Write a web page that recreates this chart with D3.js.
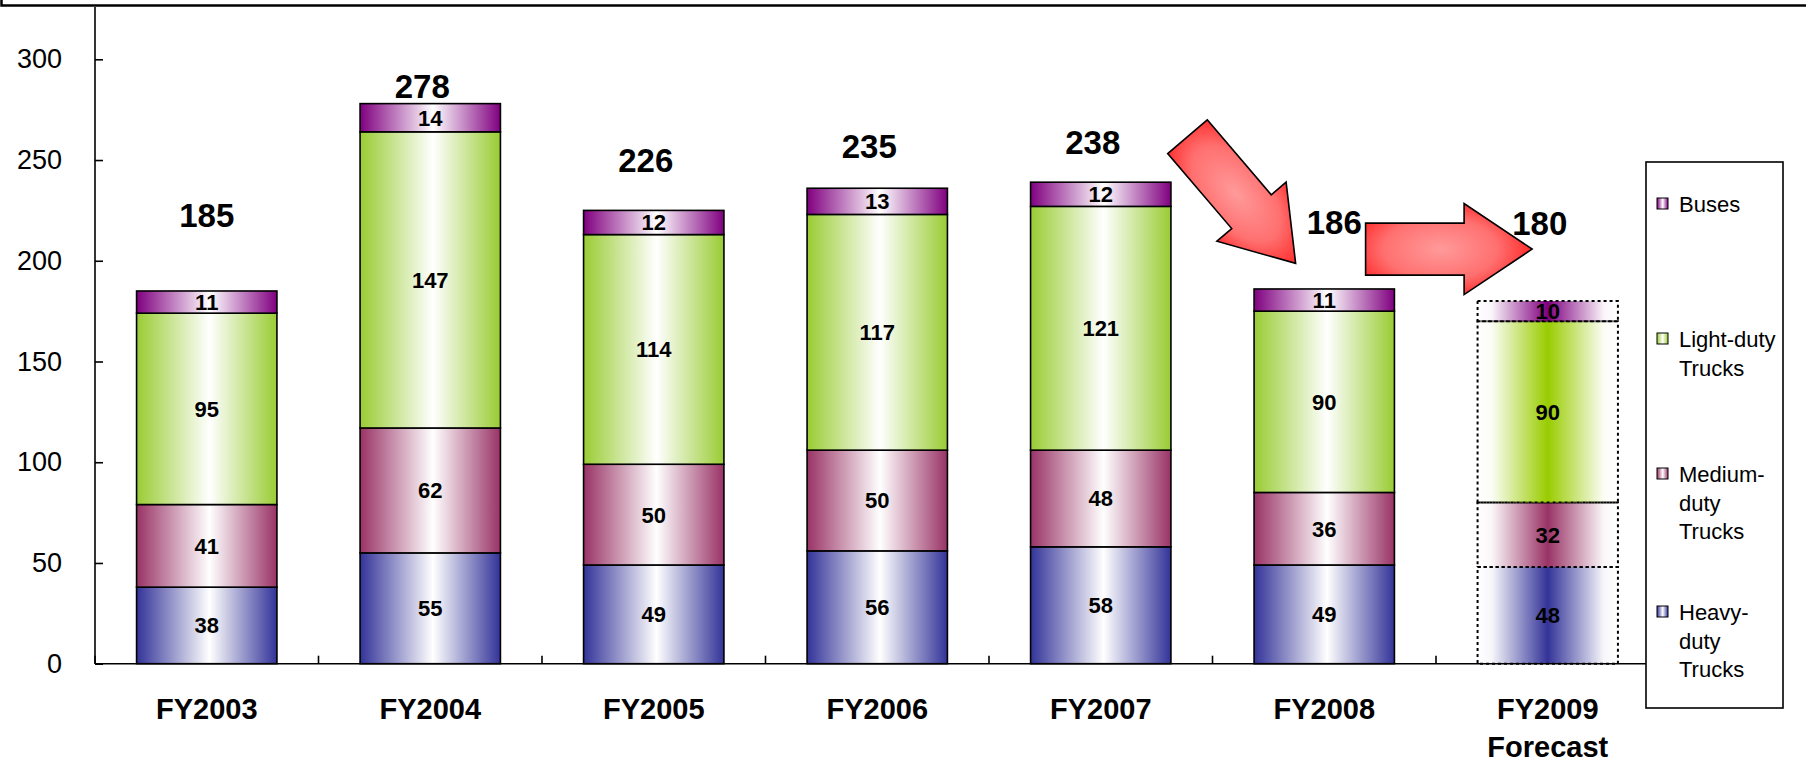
<!DOCTYPE html>
<html>
<head>
<meta charset="utf-8">
<script src="https://cdn.jsdelivr.net/npm/d3@7"></script>
<style>
  html, body { margin: 0; padding: 0; background: #fff; }
  svg { display: block; font-family: "Liberation Sans", Arial, Helvetica, sans-serif; }
</style>
</head>
<body>
<svg id="chart" width="1806" height="765"></svg>
<script>
// ---- data ----
const categories = ["FY2003", "FY2004", "FY2005", "FY2006", "FY2007", "FY2008", "FY2009"];
const categoryLines = [["FY2003"], ["FY2004"], ["FY2005"], ["FY2006"], ["FY2007"], ["FY2008"], ["FY2009", "Forecast"]];
const heavyDuty  = [38, 55, 49, 56, 58, 49, 48];
const mediumDuty = [41, 62, 50, 50, 48, 36, 32];
const lightDuty  = [95, 147, 114, 117, 121, 90, 90];
const buses      = [11, 14, 12, 13, 12, 11, 10];
const totals     = [185, 278, 226, 235, 238, 186, 180];
const isForecast = [false, false, false, false, false, false, true];
const yTicks     = [0, 50, 100, 150, 200, 250, 300];
const seriesKeys = ["heavy", "medium", "light", "buses"];
const legendOrder = ["buses", "light", "medium", "heavy"];
const legendLines = {
  buses:  ["Buses"],
  light:  ["Light-duty", "Trucks"],
  medium: ["Medium-", "duty", "Trucks"],
  heavy:  ["Heavy-", "duty", "Trucks"]
};

// ---- layout & style ----
const colors = { heavy: "#333399", medium: "#993366", light: "#99CC33", buses: "#800080" };
const forecastColors = { heavy: "#333399", medium: "#993366", light: "#99CC00", buses: "#800080" };
// Total labels: vertical anchor in value units, horizontal nudge in px
const totalLabelAt = [222.5, 286.7, 250, 256.8, 259.1, 219.4, 218.7];
const totalLabelDx = [0, -8, -8, -8, -8, 10, -8];
// Trend arrows: anchors as [category, offset in band steps, value]
const arrows = [
  { from: ["FY2007", 0.388, 261.6], to: ["FY2008", -0.128, 198.7] },
  { from: ["FY2008", 0.185, 205.8], to: ["FY2009", -0.07, 205.8] }
];
const arrowShaft = 52, arrowHead = 91, arrowHeadLen = 68;

const plotLeft = 95, plotRight = 1659.5, yZero = 663.7, y300 = 59.3, axisTop = 7;
const pad = 0.372;

const svg = d3.select("#chart");
const defs = svg.append("defs");

const x = d3.scaleBand().domain(categories).range([plotLeft, plotRight])
  .paddingInner(pad).paddingOuter(pad / 2);
const y = d3.scaleLinear().domain([0, 300]).range([yZero, y300]);
const step = x.step();

// ---- gradients ----
seriesKeys.forEach(k => {
  const g = defs.append("linearGradient").attr("id", "g-" + k)
    .attr("x1", 0).attr("x2", 1).attr("y1", 0).attr("y2", 0);
  g.append("stop").attr("offset", "0%").attr("stop-color", colors[k]);
  g.append("stop").attr("offset", "52%").attr("stop-color", "#ffffff");
  g.append("stop").attr("offset", "100%").attr("stop-color", colors[k]);

  const f = defs.append("linearGradient").attr("id", "f-" + k)
    .attr("x1", 0).attr("x2", 1).attr("y1", 0).attr("y2", 0);
  [[0, 0], [0.1, 0.04], [0.5, 1], [0.9, 0.04], [1, 0]].forEach(([o, op]) => {
    f.append("stop").attr("offset", o).attr("stop-color", forecastColors[k]).attr("stop-opacity", op);
  });
});
const ag = defs.append("radialGradient").attr("id", "arrow-fill")
  .attr("cx", 0.45).attr("cy", 0.5).attr("r", 0.62);
ag.append("stop").attr("offset", "0%").attr("stop-color", "#ff9a9a");
ag.append("stop").attr("offset", "55%").attr("stop-color", "#ff7070");
ag.append("stop").attr("offset", "100%").attr("stop-color", "#ff1414");

// ---- top frame ----
svg.append("rect").attr("x", 1.5).attr("y", -20).attr("width", 1820).attr("height", 25.5)
  .attr("fill", "none").attr("stroke", "#000").attr("stroke-width", 2.5);

// ---- stacked bars ----
const rows = categories.map((c, i) => ({
  cat: c, heavy: heavyDuty[i], medium: mediumDuty[i], light: lightDuty[i], buses: buses[i],
  forecast: isForecast[i]
}));
const stacked = d3.stack().keys(seriesKeys)(rows);

const segs = [];
stacked.forEach(layer => {
  layer.forEach(d => {
    segs.push({ key: layer.key, cat: d.data.cat, y0: d[0], y1: d[1], value: d[1] - d[0], forecast: d.data.forecast });
  });
});

const barG = svg.append("g");
barG.selectAll("rect.seg").data(segs).join("rect")
  .attr("class", "seg")
  .attr("x", d => x(d.cat))
  .attr("width", x.bandwidth())
  .attr("y", d => y(d.y1))
  .attr("height", d => y(d.y0) - y(d.y1))
  .attr("fill", d => d.forecast ? `url(#f-${d.key})` : `url(#g-${d.key})`)
  .attr("stroke", "#000")
  .attr("stroke-width", d => d.forecast ? 2 : 1.6)
  .attr("stroke-dasharray", d => d.forecast ? "3,3" : null);

barG.selectAll("text.seg-label").data(segs).join("text")
  .attr("class", "seg-label")
  .attr("x", d => x(d.cat) + x.bandwidth() / 2)
  .attr("y", d => y((d.y0 + d.y1) / 2))
  .attr("dy", "0.36em")
  .attr("text-anchor", "middle")
  .attr("font-size", 22).attr("font-weight", "bold")
  .text(d => d.value);

// ---- axes ----
const yAxis = d3.axisLeft(y).tickValues(yTicks).tickSizeInner(-8).tickSizeOuter(0).tickPadding(33);
const yg = svg.append("g").attr("transform", `translate(${plotLeft},0)`).call(yAxis);
yg.select(".domain").remove();
yg.selectAll(".tick line").attr("stroke", "#000").attr("stroke-width", 1.6);
yg.selectAll(".tick text").attr("font-size", 27).attr("fill", "#000")
  .attr("font-family", '"Liberation Sans", Arial, sans-serif');
svg.append("line").attr("x1", plotLeft).attr("x2", plotLeft).attr("y1", yZero).attr("y2", axisTop)
  .attr("stroke", "#000").attr("stroke-width", 1.6);

// x axis line and band boundary ticks pointing up
svg.append("line").attr("x1", plotLeft).attr("x2", plotRight).attr("y1", yZero).attr("y2", yZero)
  .attr("stroke", "#000").attr("stroke-width", 1.6);
const boundaries = categories.map(c => x(c) - step * pad / 2).concat([plotRight]);
svg.append("g").selectAll("line").data(boundaries).join("line")
  .attr("x1", d => d).attr("x2", d => d).attr("y1", yZero).attr("y2", yZero - 8)
  .attr("stroke", "#000").attr("stroke-width", 1.6);

// category labels
const catG = svg.append("g").selectAll("text").data(categories).join("text")
  .attr("x", c => x(c) + x.bandwidth() / 2)
  .attr("y", 718.5)
  .attr("text-anchor", "middle")
  .attr("font-size", 29).attr("font-weight", "bold");
catG.each(function(c, i) {
  d3.select(this).selectAll("tspan").data(categoryLines[i]).join("tspan")
    .attr("x", x(c) + x.bandwidth() / 2)
    .attr("dy", (d, j) => j === 0 ? 0 : 38)
    .text(d => d);
});

// ---- totals ----
svg.append("g").selectAll("text").data(totals).join("text")
  .attr("x", (d, i) => x(categories[i]) + x.bandwidth() / 2 + totalLabelDx[i])
  .attr("y", (d, i) => y(totalLabelAt[i]))
  .attr("dy", "0.36em")
  .attr("text-anchor", "middle")
  .attr("font-size", 33).attr("font-weight", "bold")
  .text(d => d);

// ---- trend arrows ----
function anchor([cat, off, v]) {
  return [x(cat) + x.bandwidth() / 2 + off * step, y(v)];
}
arrows.forEach(a => {
  const [x0, y0] = anchor(a.from);
  const [x1, y1] = anchor(a.to);
  const L = Math.hypot(x1 - x0, y1 - y0);
  const ang = Math.atan2(y1 - y0, x1 - x0) * 180 / Math.PI;
  const s = arrowShaft / 2, h = arrowHead / 2, b = L - arrowHeadLen;
  const pts = [[0, -s], [b, -s], [b, -h], [L, 0], [b, h], [b, s], [0, s]];
  svg.append("path")
    .attr("transform", `translate(${x0},${y0}) rotate(${ang})`)
    .attr("d", d3.line()(pts) + "Z")
    .attr("fill", "url(#arrow-fill)")
    .attr("stroke", "#000").attr("stroke-width", 1.6).attr("stroke-linejoin", "miter");
});

// ---- legend ----
const lg = svg.append("g");
lg.append("rect").attr("x", 1646).attr("y", 162).attr("width", 137).attr("height", 546)
  .attr("fill", "#fff").attr("stroke", "#000").attr("stroke-width", 1.6);
const legendBase = [212, 347, 482, 620];
legendOrder.forEach((k, i) => {
  const by = legendBase[i];
  lg.append("rect").attr("x", 1657).attr("y", by - 14).attr("width", 11).attr("height", 11)
    .attr("fill", `url(#g-${k})`).attr("stroke", "#000").attr("stroke-width", 1);
  const t = lg.append("text").attr("x", 1679).attr("y", by).attr("font-size", 22).attr("fill", "#000");
  legendLines[k].forEach((line, j) => {
    t.append("tspan").attr("x", 1679).attr("dy", j === 0 ? 0 : 28.5).text(line);
  });
});
</script>
</body>
</html>
